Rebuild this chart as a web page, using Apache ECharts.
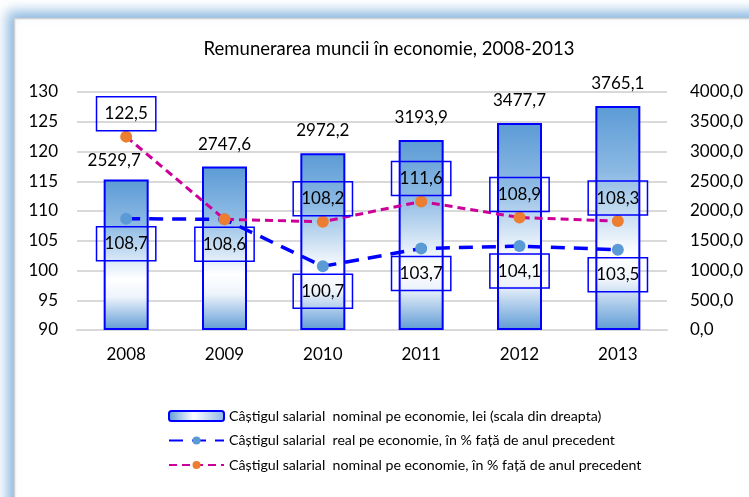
<!DOCTYPE html>
<html lang="ro">
<head>
<meta charset="UTF-8" />
<title>Remunerarea muncii</title>
<script src="https://cdn.jsdelivr.net/npm/echarts@6/dist/echarts.min.js"></script>
<style>html,body{margin:0;padding:0;background:#fff}</style>
</head>
<body>
<div id="main" style="width:749px;height:497px"></div>
<script>
// data
const years = ['2008', '2009', '2010', '2011', '2012', '2013'];
const nominalLei = [2529.7, 2747.6, 2972.2, 3193.9, 3477.7, 3765.1];
const realPct = [108.7, 108.6, 100.7, 103.7, 104.1, 103.5];
const nominalPct = [122.5, 108.6, 108.2, 111.6, 108.9, 108.3];

const names = [
  'Câștigul salarial  nominal pe economie, lei (scala din dreapta)',
  'Câștigul salarial  real pe economie, în % față de anul precedent',
  'Câștigul salarial  nominal pe economie, în % față de anul precedent'
];

const font = 'Lato';
const fmt = v => v.toFixed(1).replace('.', ',');

const boxLabel = {
  show: true,
  fontFamily: font,
  fontSize: 17,
  lineHeight: 20,
  color: '#000',
  borderColor: '#0000ff',
  borderWidth: 1.5,
  padding: [7, 8],
  formatter: p => fmt(p.value)
};

let chart = echarts.init(document.getElementById('main'));
chart.setOption({
  backgroundColor: '#fff',
  animation: false,
  textStyle: { fontFamily: font },
  graphic: [{
    type: 'rect',
    z: -10,
    shape: { x: 14.5, y: 18.5, width: 800, height: 600 },
    style: {
      fill: '#fff', stroke: '#cfcfcf', lineWidth: 1.5,
      shadowBlur: 12, shadowColor: 'rgba(91,155,213,0.75)',
      shadowOffsetX: -6, shadowOffsetY: -6
    }
  }],
  title: {
    text: 'Remunerarea muncii în economie, 2008-2013',
    left: 384, top: 35, textAlign: 'center',
    textStyle: { fontFamily: font, fontSize: 18.5, fontWeight: 'normal', color: '#000' }
  },
  grid: { left: 77, right: 82, top: 92, bottom: 167 },
  legend: {
    orient: 'vertical', left: 163, top: 404,
    itemWidth: 55, itemHeight: 10, itemGap: 10.5,
    textStyle: { fontFamily: font, fontSize: 14.2, color: '#000' },
    data: [
      { name: names[0], itemStyle: {
          color: { type: 'linear', x: 0, y: 0, x2: 1, y2: 0,
            colorStops: [{ offset: 0, color: '#5b9bd5' }, { offset: 0.45, color: '#ffffff' }, { offset: 1, color: '#8ab8e4' }] },
          borderColor: '#0000ff', borderWidth: 2 } },
      { name: names[1] },
      { name: names[2] }
    ]
  },
  xAxis: {
    type: 'category', data: years,
    axisTick: { show: false },
    axisLine: { lineStyle: { color: '#d9d9d9', width: 2 } },
    axisLabel: { fontFamily: font, fontSize: 17, color: '#000', margin: 16 }
  },
  yAxis: [{
    type: 'value', min: 90, max: 130, interval: 5,
    axisLabel: { fontFamily: font, fontSize: 17, color: '#000', margin: 19 },
    splitLine: { lineStyle: { color: '#d9d9d9', width: 2 } }
  }, {
    type: 'value', min: 0, max: 4000, interval: 500,
    axisLabel: { fontFamily: font, fontSize: 17, color: '#000', margin: 23, formatter: v => fmt(v) },
    splitLine: { show: false }
  }],
  series: [{
    name: names[0],
    type: 'bar', yAxisIndex: 1, barWidth: 45,
    data: nominalLei.map((v, i) => i === 0 ? { value: v, label: { offset: [-12, 4] } } : v),
    itemStyle: {
      color: { type: 'linear', x: 0, y: 0, x2: 0, y2: 1,
        colorStops: [
          { offset: 0, color: '#5b9bd5' },
          { offset: 0.3, color: '#8dbae4' },
          { offset: 0.66, color: '#ffffff' },
          { offset: 0.78, color: '#eef4fb' },
          { offset: 1, color: '#5f9bd6' }
        ] },
      borderColor: '#0000ff', borderWidth: 2
    },
    label: { show: true, position: 'top', distance: 14, fontFamily: font, fontSize: 17, color: '#000', formatter: p => fmt(p.value) }
  }, {
    name: names[1],
    type: 'line', data: realPct,
    symbol: 'circle', symbolSize: 12,
    itemStyle: { color: '#5b9bd5' },
    lineStyle: { color: '#0000ff', width: 3.5, type: [14, 9] },
    label: Object.assign({}, boxLabel, { position: 'bottom', distance: 2 }),
    z: 3
  }, {
    name: names[2],
    type: 'line',
    data: nominalPct.map((v, i) => i === 1 ? { value: v, label: { show: false } } : v),
    symbol: 'circle', symbolSize: 12,
    itemStyle: { color: '#ed7d31' },
    lineStyle: { color: '#cc0099', width: 3, type: [8, 5] },
    label: Object.assign({}, boxLabel, { position: 'top', distance: 0 }),
    z: 4
  }]
});
</script>
</body>
</html>
